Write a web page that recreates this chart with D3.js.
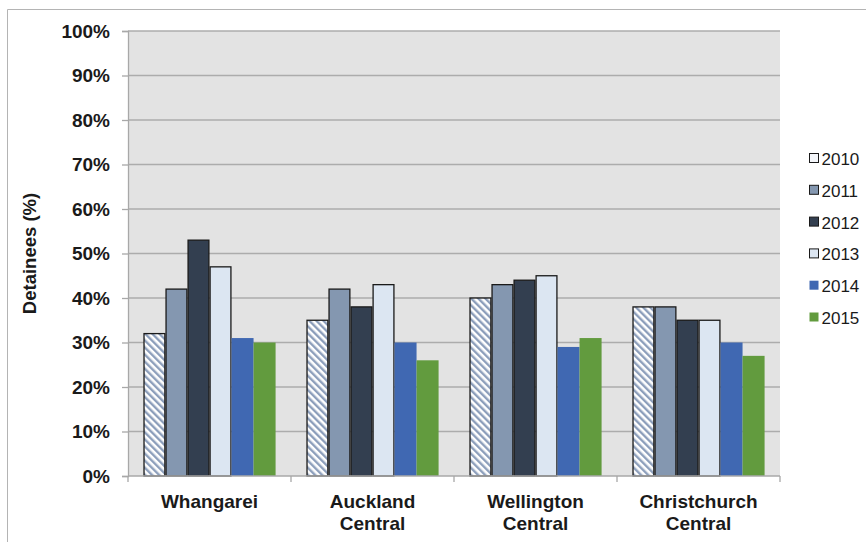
<!DOCTYPE html>
<html>
<head>
<meta charset="utf-8">
<script src="https://cdn.jsdelivr.net/npm/d3@7"></script>
<style>
  body { margin: 0; background: #fff; }
  svg { display: block; font-family: "Liberation Sans", Arial, sans-serif; }
</style>
</head>
<body>
<svg id="chart" width="866" height="542"></svg>
<script>
// data
const categories = [['Whangarei'], ['Auckland', 'Central'], ['Wellington', 'Central'], ['Christchurch', 'Central']]
const years = ['2010', '2011', '2012', '2013', '2014', '2015']
const v2010 = [32, 35, 40, 38]
const v2011 = [42, 42, 43, 38]
const v2012 = [53, 38, 44, 35]
const v2013 = [47, 43, 45, 35]
const v2014 = [31, 30, 29, 30]
const v2015 = [30, 26, 31, 27]
const yTicks = [0, 10, 20, 30, 40, 50, 60, 70, 80, 90, 100]

const seriesValues = [v2010, v2011, v2012, v2013, v2014, v2015]
const fills = ['url(#hatch)', '#8497b0', '#333f50', '#dce6f2', '#4068b2', '#629b3e']
const strokes = ['#1a1a1a', '#1a1a1a', '#1a1a1a', '#1a1a1a', 'none', 'none']

const svg = d3.select('#chart')
const margin = { left: 128, top: 31, right: 780, bottom: 476 }

// hatch pattern for 2010
const defs = svg.append('defs')
const pat = defs.append('pattern')
  .attr('id', 'hatch')
  .attr('patternUnits', 'userSpaceOnUse')
  .attr('width', 5).attr('height', 5)
  .attr('patternTransform', 'rotate(-45)')
pat.append('rect').attr('width', 5).attr('height', 5).attr('fill', '#ffffff')
pat.append('rect').attr('width', 2.4).attr('height', 5).attr('fill', '#8c9ebb')

// outer frame
svg.append('path')
  .attr('d', 'M7.5,545 V9.5 H870')
  .attr('fill', 'none')
  .attr('stroke', '#b4b4b4')
  .attr('stroke-width', 1)

const x0 = d3.scaleBand()
  .domain(d3.range(categories.length))
  .range([margin.left, margin.right])
const x1 = d3.scaleBand()
  .domain(years)
  .range([0, x0.bandwidth()])
  .paddingOuter(0.7)
  .paddingInner(0)
const y = d3.scaleLinear().domain([0, 100]).range([margin.bottom, margin.top])

// plot background
svg.append('rect')
  .attr('x', margin.left).attr('y', margin.top)
  .attr('width', margin.right - margin.left)
  .attr('height', margin.bottom - margin.top)
  .attr('fill', '#e3e3e3')

// gridlines
svg.append('g')
  .selectAll('line')
  .data(yTicks.filter(d => d > 0))
  .join('line')
  .attr('x1', margin.left).attr('x2', margin.right)
  .attr('y1', d => y(d)).attr('y2', d => y(d))
  .attr('stroke', '#acacac')
  .attr('stroke-width', 1.3)

// y axis
const yAxis = svg.append('g')
  .attr('transform', `translate(${margin.left},0)`)
  .call(d3.axisLeft(y).tickValues(yTicks).tickFormat(d => d + '%').tickSize(6).tickPadding(12))
yAxis.select('.domain').attr('stroke', '#a8a8a8').attr('stroke-width', 1.3)
yAxis.selectAll('.tick line').attr('stroke', '#a8a8a8').attr('stroke-width', 1.3)
yAxis.selectAll('.tick text')
  .attr('font-size', 19).attr('font-weight', 'bold').attr('fill', '#1a1a1a')
  .attr('font-family', '"Liberation Sans", Arial, sans-serif')

// bars
const groups = svg.append('g')
  .selectAll('g')
  .data(categories.map((c, i) => i))
  .join('g')
  .attr('transform', i => `translate(${x0(i)},0)`)

groups.selectAll('rect')
  .data(i => years.map((yr, s) => ({ yr, s, v: seriesValues[s][i] })))
  .join('rect')
  .attr('x', d => x1(d.yr) + (d.s < 4 ? 0.6 : 0))
  .attr('width', d => x1.bandwidth() - (d.s < 4 ? 1.2 : 0))
  .attr('y', d => y(d.v))
  .attr('height', d => y(0) - y(d.v))
  .attr('fill', d => fills[d.s])
  .attr('stroke', d => strokes[d.s])
  .attr('stroke-width', 1.3)

// x axis line and category ticks
svg.append('line')
  .attr('x1', margin.left).attr('x2', margin.right)
  .attr('y1', margin.bottom).attr('y2', margin.bottom)
  .attr('stroke', '#a8a8a8').attr('stroke-width', 1.5)
svg.append('g')
  .selectAll('line')
  .data(d3.range(categories.length + 1))
  .join('line')
  .attr('x1', i => margin.left + i * x0.step())
  .attr('x2', i => margin.left + i * x0.step())
  .attr('y1', margin.bottom).attr('y2', margin.bottom + 6)
  .attr('stroke', '#a8a8a8').attr('stroke-width', 1.3)

// category labels
const labels = svg.append('g')
  .selectAll('text')
  .data(categories)
  .join('text')
  .attr('x', (c, i) => x0(i) + x0.bandwidth() / 2)
  .attr('y', 508)
  .attr('text-anchor', 'middle')
  .attr('font-size', 19).attr('font-weight', 'bold').attr('fill', '#1a1a1a')
labels.selectAll('tspan')
  .data(c => c)
  .join('tspan')
  .attr('x', function () { return d3.select(this.parentNode).attr('x') })
  .attr('dy', (d, j) => j === 0 ? 0 : 22)
  .text(d => d)

// y title
svg.append('text')
  .attr('transform', `translate(36,${(margin.top + margin.bottom) / 2}) rotate(-90)`)
  .attr('text-anchor', 'middle')
  .attr('font-size', 18.5).attr('font-weight', 'bold').attr('fill', '#1a1a1a')
  .text('Detainees (%)')

// legend
const legend = svg.append('g')
  .selectAll('g')
  .data(years)
  .join('g')
  .attr('transform', (d, i) => `translate(809.5,${153.5 + i * 31.8})`)
legend.append('rect')
  .attr('width', 9).attr('height', 9)
  .attr('fill', (d, i) => i === 0 ? '#f4f6fa' : fills[i])
  .attr('stroke', (d, i) => strokes[i])
  .attr('stroke-width', 1)
legend.append('text')
  .attr('x', 12).attr('y', 11.5)
  .attr('font-size', 17).attr('fill', '#1a1a1a')
  .text(d => d)
</script>
</body>
</html>
